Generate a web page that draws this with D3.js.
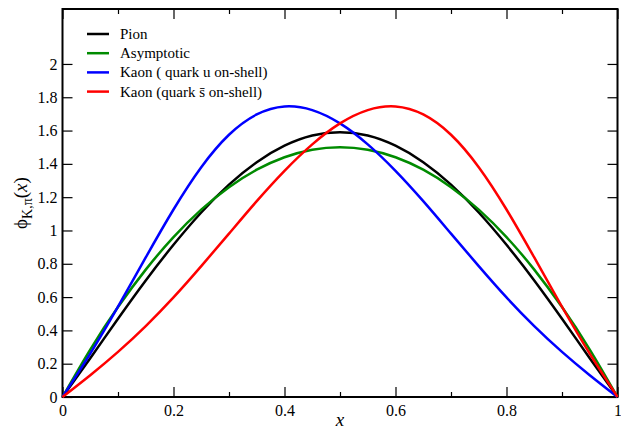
<!DOCTYPE html>
<html>
<head>
<meta charset="utf-8">
<script src="https://cdn.jsdelivr.net/npm/d3@7"></script>
<style>
  body { margin: 0; background: #fff; }
  svg text { font-family: "Liberation Serif", "Times New Roman", Times, serif; fill: #000; }
</style>
</head>
<body>
<div class="chart"></div>
<script>
'use strict';

// sample positions along x
var xs = [0, 0.05, 0.1, 0.15, 0.2, 0.25, 0.3, 0.35, 0.4, 0.45, 0.5,
          0.55, 0.6, 0.65, 0.7, 0.75, 0.8, 0.85, 0.9, 0.95, 1];

// values
var pion       = [0, 0.233, 0.47, 0.70, 0.914, 1.108, 1.275, 1.41, 1.509, 1.57, 1.59,
                  1.57, 1.509, 1.41, 1.275, 1.108, 0.914, 0.70, 0.47, 0.233, 0];
var asymptotic = [0, 0.285, 0.54, 0.765, 0.96, 1.125, 1.26, 1.365, 1.44, 1.485, 1.5,
                  1.485, 1.44, 1.365, 1.26, 1.125, 0.96, 0.765, 0.54, 0.285, 0];
var kaonU      = [0, 0.260, 0.542, 0.838, 1.126, 1.380, 1.575, 1.697, 1.745, 1.723, 1.643,
                  1.517, 1.358, 1.176, 0.981, 0.786, 0.598, 0.426, 0.271, 0.131, 0];
var kaonS      = [0, 0.131, 0.271, 0.426, 0.598, 0.786, 0.981, 1.176, 1.358, 1.517, 1.643,
                  1.723, 1.745, 1.697, 1.575, 1.380, 1.126, 0.838, 0.542, 0.260, 0];

var seriesNames  = ['Pion', 'Asymptotic', 'Kaon ( quark u on-shell)', 'Kaon (quark s\u0304 on-shell)'];
var seriesColors = ['#000000', '#008b00', '#0000ff', '#ff0000'];
var seriesData   = [pion, asymptotic, kaonU, kaonS];

var xTicks = [0, 0.2, 0.4, 0.6, 0.8, 1];
var xMinor = [0.1, 0.3, 0.5, 0.7, 0.9];
var yTicks = [0, 0.2, 0.4, 0.6, 0.8, 1, 1.2, 1.4, 1.6, 1.8, 2];

var width = 621, height = 430;
var margin = {left: 62.5, right: 3.5, top: 9, bottom: 33};
var yMax = 2.33;
var serif = '"Liberation Serif", "Times New Roman", Times, serif';

var svg = d3.select('.chart')
  .append('svg')
  .attr('width', width)
  .attr('height', height);

var x = d3.scaleLinear().domain([0, 1]).range([margin.left, width - margin.right]);
var y = d3.scaleLinear().domain([0, yMax]).range([height - margin.bottom, margin.top]);

var fmt = function(d){ return String(d); };

// axes: bottom/left carry labels, top/right mirror the ticks
svg.append('g')
  .attr('transform', 'translate(0,' + y(0) + ')')
  .call(d3.axisBottom(x).tickValues(xTicks).tickSize(-10).tickPadding(8).tickFormat(fmt));
svg.append('g')
  .attr('transform', 'translate(0,' + y(0) + ')')
  .call(d3.axisBottom(x).tickValues(xMinor).tickSize(-5).tickFormat(''));
svg.append('g')
  .attr('transform', 'translate(0,' + y(yMax) + ')')
  .call(d3.axisTop(x).tickValues(xTicks).tickSize(-10).tickFormat(''));
svg.append('g')
  .attr('transform', 'translate(0,' + y(yMax) + ')')
  .call(d3.axisTop(x).tickValues(xMinor).tickSize(-5).tickFormat(''));
svg.append('g')
  .attr('transform', 'translate(' + x(0) + ',0)')
  .call(d3.axisLeft(y).tickValues(yTicks).tickSize(-10).tickPadding(5).tickFormat(fmt));
svg.append('g')
  .attr('transform', 'translate(' + x(1) + ',0)')
  .call(d3.axisRight(y).tickValues(yTicks).tickSize(-10).tickFormat(''));

svg.selectAll('.domain').remove();
svg.selectAll('g').attr('font-family', serif);
svg.selectAll('.tick line').attr('stroke', '#000').attr('stroke-width', 1.2);
svg.selectAll('.tick text')
  .style('font-family', serif)
  .style('font-size', '16px')
  .attr('fill', '#000');

// frame
svg.append('rect')
  .attr('x', x(0)).attr('y', y(yMax))
  .attr('width', x(1) - x(0)).attr('height', y(0) - y(yMax))
  .attr('fill', 'none').attr('stroke', '#000').attr('stroke-width', 2);

// curves
var line = d3.line()
  .x(function(d, i){ return x(xs[i]); })
  .y(function(d){ return y(d); })
  .curve(d3.curveNatural);

svg.append('g').selectAll('path')
  .data(seriesData)
  .enter().append('path')
  .attr('d', line)
  .attr('fill', 'none')
  .attr('stroke', function(d, i){ return seriesColors[i]; })
  .attr('stroke-width', 2.5);

// legend
var legend = svg.append('g').attr('transform', 'translate(87,34)');
var rows = legend.selectAll('g')
  .data(seriesNames)
  .enter().append('g')
  .attr('transform', function(d, i){ return 'translate(0,' + (i * 19.2) + ')'; });
rows.append('line')
  .attr('x1', 0).attr('x2', 22)
  .attr('stroke', function(d, i){ return seriesColors[i]; })
  .attr('stroke-width', 2.5);
rows.append('text')
  .attr('x', 33).attr('y', 5)
  .style('font-family', serif)
  .style('font-size', '15px')
  .text(function(d){ return d; });

// axis titles
svg.append('text')
  .attr('x', x(0.5)).attr('y', 426)
  .attr('text-anchor', 'middle')
  .style('font-family', serif)
  .style('font-size', '19px')
  .style('font-style', 'italic')
  .text('x');

var yTitle = svg.append('text')
  .attr('transform', 'translate(27,203) rotate(-90)')
  .attr('text-anchor', 'middle')
  .style('font-family', serif)
  .style('font-size', '19px');
yTitle.append('tspan').text('\u03d5');
yTitle.append('tspan').attr('dy', 5).style('font-size', '14px').text('K,\u03c0');
yTitle.append('tspan').attr('dy', -5).text('(');
yTitle.append('tspan').style('font-style', 'italic').text('x');
yTitle.append('tspan').text(')');
</script>
</body>
</html>
